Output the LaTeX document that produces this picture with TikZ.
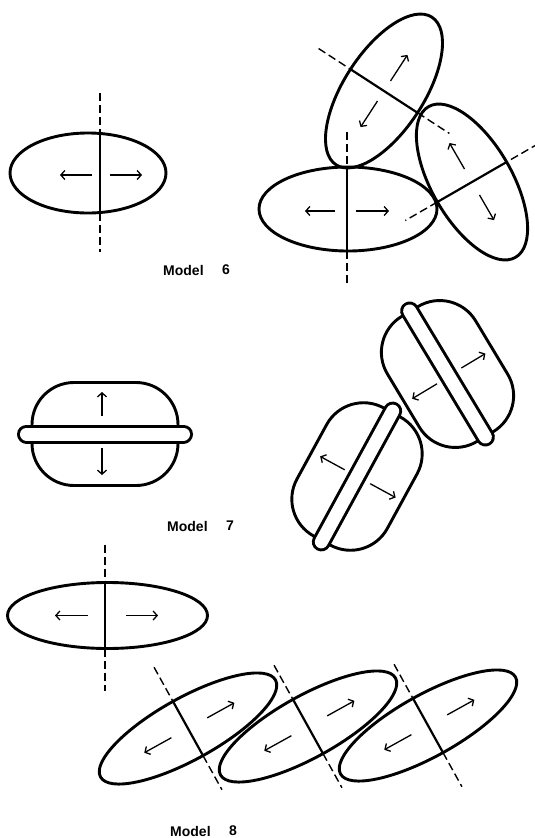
\documentclass[tikz,border=0pt]{standalone}
\usepackage{fontspec}
\setmainfont{Liberation Sans}
\usetikzlibrary{arrows.meta}
\begin{document}
\begin{tikzpicture}[x=1pt,y=-1pt,
  outline/.style={line width=2.9pt},
  divider/.style={line width=2.2pt},
  dashln/.style={line width=1.4pt, dash pattern=on 8pt off 4pt},
  arr/.style={line width=1.3pt,-{Straight Barb[length=4pt,width=9pt]}},
  barout/.style={line width=19pt, line cap=round},
  barin/.style={line width=13pt, line cap=round, white},
  lbl/.style={font=\fontsize{14}{16}\selectfont\bfseries, inner sep=0pt}]
\useasboundingbox (0,0) rectangle (535,838);

% ---------- Model 6, single ----------
\begin{scope}[shift={(88,173)}]
  \draw[outline] (0,0) ellipse [x radius=78, y radius=40];
  \draw[divider] (12,-39.5) -- (12,39.5);
  \draw[dashln] (12,-80) -- (12,-39.5);
  \draw[dashln] (12,39.5) -- (12,79);
  \draw[arr] (4,2) -- (-28,2);
  \draw[arr] (22,2) -- (54,2);
\end{scope}

% ---------- Model 6, cluster ----------
\begin{scope}[shift={(348,209)}]
  \draw[outline] (0,0) ellipse [x radius=89, y radius=42];
  \draw[divider] (-1,-42) -- (-1,42);
  \draw[dashln] (-1,-77) -- (-1,-42);
  \draw[dashln] (-1,42) -- (-1,76);
  \draw[arr] (-13,2) -- (-43,2);
  \draw[arr] (8,2) -- (41,2);
\end{scope}
\begin{scope}[shift={(384,91)}, rotate=57]
  \draw[outline] (0,0) ellipse [x radius=88, y radius=40];
  \draw[divider] (0,-40) -- (0,40);
  \draw[dashln] (0,-78) -- (0,-40);
  \draw[dashln] (0,40) -- (0,78);
  \draw[arr] (12,0) -- (43,0);
  \draw[arr] (-12,0) -- (-43,0);
\end{scope}
\begin{scope}[shift={(472,182)}, rotate=-60]
  \draw[outline] (0,0) ellipse [x radius=87, y radius=40];
  \draw[divider] (0,-40) -- (0,40);
  \draw[dashln] (0,-77) -- (0,-40);
  \draw[dashln] (0,40) -- (0,77);
  \draw[arr] (-15,0) -- (-45,0);
  \draw[arr] (15,0) -- (44,0);
\end{scope}

\node[lbl, anchor=west] (m6) at (163,270) {Model};
\node[lbl] (n6) at (226,270) {6};

% ---------- Model 7, single ----------
\begin{scope}[shift={(105,434)}]
  \draw[outline, rounded corners=42] (-73,-51.5) rectangle (73,51.5);
  \draw[barout] (-78.5,0) -- (78.5,0);
  \draw[barin] (-78.5,0) -- (78.5,0);
  \draw[arr] (-3,-18) -- (-3,-42);
  \draw[arr] (-3,14) -- (-3,41);
\end{scope}

% ---------- Model 7, pair ----------
\begin{scope}[shift={(357,476.5)}, rotate=61.4]
  \draw[outline, rounded corners=42] (-73,-51.5) rectangle (73,51.5);
\end{scope}
\begin{scope}[shift={(447.5,374)}, rotate=-59]
  \draw[outline, rounded corners=42] (-73,-51.5) rectangle (73,51.5);
  \draw[barout] (-73.5,0) -- (73.5,0);
  \draw[barin] (-73.5,0) -- (73.5,0);
  \draw[arr] (2,-15) -- (2,-43);
  \draw[arr] (3,14) -- (3,43);
\end{scope}
\begin{scope}[shift={(357,476.5)}, rotate=61.4]
  \draw[barout] (-74.5,0) -- (74.5,0);
  \draw[barin] (-74.5,0) -- (74.5,0);
  \draw[arr] (0,-14) -- (0,-42);
  \draw[arr] (0,15) -- (0,44);
\end{scope}

\node[lbl, anchor=west] (m7) at (167,526) {Model};
\node[lbl] (n7) at (230,526) {7};

% ---------- Model 8, single ----------
\begin{scope}[shift={(107.5,615.5)}]
  \draw[outline] (0,0) ellipse [x radius=100, y radius=33];
  \draw[divider] (-2.5,-33) -- (-2.5,33);
  \draw[dashln] (-2.5,-71) -- (-2.5,-33);
  \draw[dashln] (-2.5,33) -- (-2.5,75);
  \draw[arr] (-19.5,0) -- (-52.5,0);
  \draw[arr] (18.5,0) -- (50.5,0);
\end{scope}

% ---------- Model 8, chain ----------
\foreach \cx/\cy in {188/728.5, 308/726.5, 428/725.5}{
  \begin{scope}[shift={(\cx,\cy)}, rotate=29]
    \draw[outline] (0,0) ellipse [x radius=100, y radius=31];
    \draw[divider] (0,-31) -- (0,31);
    \draw[dashln] (0,-70) -- (0,-31);
    \draw[dashln] (0,31) -- (0,70);
    \draw[arr] (22,0) -- (53,0);
    \draw[arr] (-19,0) -- (-50,0);
  \end{scope}
}

\node[lbl, anchor=west] (m8) at (170,831) {Model};
\node[lbl] (n8) at (233,831) {8};
\end{tikzpicture}
\end{document}
